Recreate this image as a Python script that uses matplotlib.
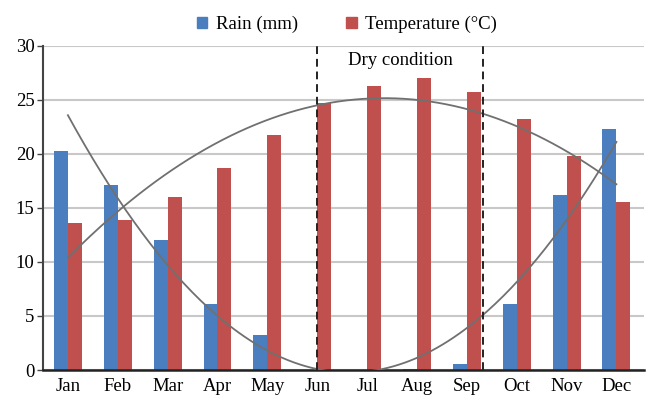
import numpy as np
import matplotlib
matplotlib.use("Agg")
import matplotlib.pyplot as plt
from matplotlib.patches import Patch

months = ["Jan", "Feb", "Mar", "Apr", "May", "Jun", "Jul", "Aug", "Sep", "Oct", "Nov", "Dec"]
rain = [20.3, 17.1, 12.0, 6.1, 3.2, 0.0, 0.0, 0.1, 0.6, 6.1, 16.2, 22.3]
temp = [13.6, 13.9, 16.0, 18.7, 21.7, 24.7, 26.3, 27.0, 25.7, 23.2, 19.8, 15.5]
yticks = [0, 5, 10, 15, 20, 25, 30]

plt.rcParams['font.family'] = ['Liberation Serif', 'DejaVu Serif']

BLUE = "#4a7ebf"
RED = "#c0504d"

fig = plt.figure(figsize=(6.51, 3.97), dpi=100)
ax = fig.add_axes([0.066, 0.068, 0.923, 0.817])

x = np.arange(len(months))
w = 0.28
ax.bar(x - w / 2, rain, w, color=BLUE, zorder=2)
ax.bar(x + w / 2, temp, w, color=RED, zorder=2)

# Polynomial (order 2) trend lines, as in a spreadsheet chart
xs = np.linspace(0, 11, 200)
pr = np.polyfit(x, rain, 2)
pt = np.polyfit(x, temp, 2)
ax.plot(xs, np.polyval(pr, xs), color="#707070", lw=1.3, zorder=3, clip_on=True)
ax.plot(xs, np.polyval(pt, xs), color="#707070", lw=1.3, zorder=3)

ax.axvline(5.0, color="#222222", ls=(0, (4, 2.5)), lw=1.4, zorder=4)
ax.axvline(8.32, color="#222222", ls=(0, (4, 2.5)), lw=1.4, zorder=4)
ax.text(6.66, 28.6, "Dry condition", ha="center", va="center", fontsize=13.5)

ax.set_xlim(-0.5, 11.55)
ax.set_ylim(0, 30)
ax.set_yticks(yticks)
ax.set_xticks(x)
ax.set_xticklabels(months, fontsize=13.5)
ax.tick_params(axis='y', labelsize=13.5, length=4, width=1, color="#444444", pad=2)
ax.tick_params(axis='x', length=0, pad=6)
ax.yaxis.grid(True, color="#c8c8c8", lw=1.5, zorder=0)
ax.set_axisbelow(True)
for s in ["top", "right"]:
    ax.spines[s].set_visible(False)
ax.spines["left"].set_color("#444444")
ax.spines["left"].set_linewidth(1.5)
ax.spines["bottom"].set_color("#222222")
ax.spines["bottom"].set_linewidth(1.8)

handles = [Patch(color=BLUE, label="Rain (mm)"), Patch(color=RED, label="Temperature (\u00b0C)")]
fig.legend(handles=handles, loc="center", bbox_to_anchor=(0.533, 0.938), ncol=2, frameon=False,
           fontsize=13.5, handlelength=0.55, handleheight=0.55, handletextpad=0.45, columnspacing=2.6)

fig.savefig("out.png", dpi=100)
